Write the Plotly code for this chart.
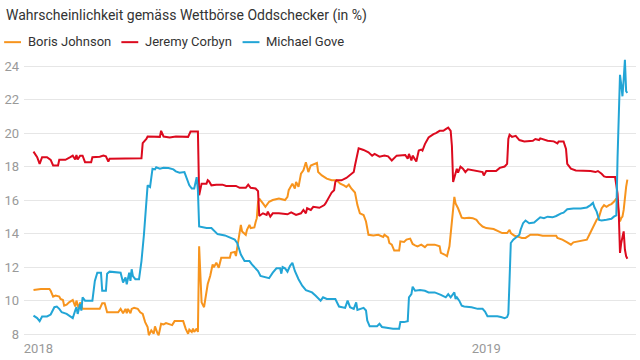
import plotly.graph_objects as go
import pandas as pd

# ---------------- data (day offsets from 2018-01-01, probability in %) ----------------
johnson_days = [-4, 2, 9, 10, 12, 14, 17, 18, 20, 21, 23, 25, 28, 30, 31, 33, 34, 36, 50, 52, 54, 56, 65, 67, 69, 71, 72, 73, 75, 76, 78, 81, 83, 85, 87, 89, 90, 92, 94, 95, 97, 98, 100, 102, 104, 109, 111, 115, 118, 120, 122, 123, 125, 126, 127, 129, 130,
                131, 132, 133, 135, 136, 138, 140, 142, 143, 145, 147, 149, 156, 157, 160, 161, 162, 164, 165, 166, 169, 170, 172, 173, 176, 177, 178, 179, 180, 183, 185, 188, 191, 196, 201, 203, 204, 207, 209, 210, 212, 214, 216, 218, 219, 220, 222, 225, 227, 228, 231, 235, 239, 243, 246, 249, 251, 253, 255, 258, 260, 262, 265, 267, 269, 273, 277, 281, 282, 285, 286, 288, 290, 294, 295, 298, 300, 303, 305, 307, 309, 312, 315, 317, 323, 327, 328, 331, 333, 335, 337, 339, 340, 342, 345, 347, 351, 354, 357, 359, 362, 365, 371, 376, 378, 382, 384, 385, 388, 392, 394, 397, 401, 407, 411, 417, 422, 423, 427, 431, 434, 436, 440, 444, 447, 449, 451, 453, 455, 457, 459, 461, 463, 465, 467, 469, 471, 472, 474, 475, 476, 477, 478, 479, 480]
johnson_vals = [10.64, 10.7, 10.7, 10.6, 10.25, 10.31, 10.25, 10.11, 10.05, 9.71, 9.77, 9.91, 10.05, 9.66, 10.01, 9.52, 9.91, 9.52, 9.52, 9.85, 9.85, 9.32, 9.32, 9.52, 9.26, 9.52, 9.26, 9.52, 9.26, 9.52, 9.58, 9.52, 9.32, 9.22, 8.73, 8.44, 7.95, 8.24, 8.04, 8.48, 8.08, 7.95, 8.63, 8.59, 8.67, 8.55, 8.79, 8.79, 8.79, 8.34, 8.04, 8.28, 8.14, 8.34, 8.14, 8.34, 8.14,
                13.25, 11.0, 9.91, 9.62, 10.01, 11.0, 11.48, 12.17, 12.0, 12.27, 11.97, 12.57, 12.57, 12.86, 12.92, 12.67, 13.16, 14.14, 14.53, 14.14, 13.94, 14.24, 14.53, 14.34, 14.38, 14.69, 14.93, 15.9, 16.1, 15.81, 15.61, 15.91, 16.01, 16.1, 16.01, 16.2, 16.6, 16.99, 16.7, 17.09, 16.8, 17.58, 17.78, 18.27, 17.88, 17.68, 18.07, 18.17, 18.23, 17.68, 17.48, 17.29, 17.19, 17.19, 16.99, 16.89, 16.79, 16.93, 16.7, 16.46, 15.71, 15.22, 15.12, 14.73, 13.94, 13.9, 13.94, 13.81, 13.94, 13.78, 13.45, 13.35, 13.0, 13.0, 13.55, 13.51, 13.65, 13.71, 13.39, 13.31, 13.25, 13.35, 13.2, 13.35, 13.35, 13.25, 12.86, 12.76, 12.66, 13.25, 14.73, 16.2, 15.81, 15.52, 14.96, 14.93, 14.96, 14.93, 14.83, 14.63, 14.43, 14.34, 14.28, 14.14, 14.04, 14.04, 14.24, 14.04, 13.88, 13.8, 13.75, 13.75, 13.94, 13.94, 13.88, 13.88, 13.88, 13.75, 13.65, 13.49, 13.35, 13.49, 13.55, 13.61, 13.65, 13.94, 14.24, 14.53, 14.83, 15.02, 15.51, 15.71, 15.61, 15.71, 15.77, 15.91, 16.1, 15.81, 14.73, 14.93, 15.02, 15.42, 16.3, 16.8, 17.23]

corbyn_days = [-4, -1, 1, 3, 7, 10, 12, 16, 17, 22, 26, 28, 30, 31, 32, 34, 36, 38, 43, 44, 50, 53, 55, 57, 58, 67, 75, 84, 85, 88, 89, 99, 100, 102, 107, 112, 122, 124, 130, 131, 133, 137, 138, 139, 141, 145, 150, 153, 161, 164, 169, 171, 173, 177, 179, 180, 183, 186, 187, 189, 191, 196, 203, 206, 210, 214, 216, 218, 219, 222, 224, 229, 233, 234, 237, 239, 241, 242, 243, 247, 251, 254, 257, 258, 260, 261, 265, 269, 272, 274, 278, 282, 285, 288, 292, 299, 301, 302, 304, 305, 308, 310, 312, 313, 315, 318, 322, 324, 327, 330, 332, 334, 336, 337, 338, 340, 341, 342, 344, 346, 348, 350, 355, 361, 362, 363, 365, 373, 376, 380, 382, 383, 384, 386, 389, 392, 396, 403, 405, 408, 409, 415, 420, 423, 424, 428, 430, 431, 434, 438, 444, 450, 454, 456, 459, 461, 463, 468, 470, 471, 472, 473, 474, 475, 477, 478, 479, 480]
corbyn_vals = [18.9, 18.57, 18.17, 18.57, 18.57, 18.41, 18.07, 18.07, 18.41, 18.41, 18.57, 18.66, 18.43, 18.7, 18.43, 18.66, 18.66, 18.27, 18.27, 18.57, 18.6, 18.66, 18.62, 18.31, 18.47, 18.47, 18.47, 18.51, 19.41, 19.65, 19.8, 19.78, 20.14, 19.8, 19.74, 19.8, 19.78, 20.1, 20.1, 16.3, 16.99, 16.99, 17.19, 17.13, 16.89, 16.93, 16.93, 16.85, 16.85, 16.74, 16.74, 16.93, 16.74, 16.7, 16.54, 15.06, 15.22, 15.12, 15.32, 15.02, 15.22, 15.22, 15.16, 15.28, 15.12, 15.22, 15.42, 15.22, 15.52, 15.42, 15.61, 15.55, 15.71, 15.81, 16.2, 16.46, 16.6, 17.09, 17.19, 17.19, 17.33, 17.48, 17.68, 18.07, 18.86, 19.1, 19.0, 18.86, 18.66, 18.76, 18.6, 18.66, 18.62, 18.37, 18.66, 18.7, 18.47, 18.76, 18.37, 18.66, 18.31, 18.96, 19.02, 18.96, 19.35, 19.74, 19.94, 20.0, 20.14, 20.14, 20.24, 20.33, 20.14, 19.25, 17.09, 17.58, 17.88, 17.64, 18.0, 17.88, 17.68, 17.84, 17.78, 17.72, 17.68, 17.48, 17.74, 17.74, 17.93, 18.01, 18.17, 19.65, 19.9, 19.78, 19.84, 19.59, 19.51, 19.55, 19.65, 19.59, 19.69, 19.55, 19.51, 19.39, 19.51, 19.51, 19.06, 18.17, 17.88, 17.78, 17.78, 17.74, 17.68, 17.74, 17.58, 17.42, 17.38, 17.38, 17.38, 16.9, 16.4, 15.22, 12.86, 13.45, 14.14, 13.06, 12.66, 12.51]

gove_days = [-4, -1, 1, 3, 7, 10, 13, 15, 17, 19, 23, 26, 28, 30, 31, 32, 34, 35, 36, 38, 44, 46, 48, 51, 52, 55, 56, 58, 67, 69, 71, 72, 74, 75, 76, 77, 79, 82, 84, 86, 88, 89, 91, 93, 95, 96, 99, 102, 106, 110, 112, 115, 119, 123, 125, 127, 129, 130, 131, 137, 141, 143, 146, 152, 156, 160, 162, 164, 165, 168, 172, 174, 179, 181, 185, 188, 191, 194, 197, 198, 199, 201, 203, 205, 207, 209, 212, 215, 218, 220, 223, 226, 230, 232, 235, 242, 245, 250, 252, 254, 257, 259, 260, 265, 267, 268, 270, 276, 278, 280, 284, 289, 294, 295, 298, 301, 302, 304, 305, 307, 311, 315, 318, 323, 328, 332, 334, 336, 339, 340, 341, 343, 345, 347, 353, 358, 362, 364, 366, 374, 377, 380, 382, 383, 384, 385, 387, 390, 392, 393, 395, 397, 400, 404, 407, 409, 412, 415, 419, 422, 426, 428, 431, 436, 442, 447, 450, 452, 453, 455, 457, 459, 463, 467, 469, 471, 472, 473, 474, 475, 476, 477, 478, 479, 480]
gove_vals = [9.12, 8.97, 8.79, 9.07, 9.07, 9.18, 9.62, 9.66, 9.52, 9.32, 9.22, 9.07, 8.97, 9.42, 9.62, 9.22, 9.81, 9.42, 10.21, 10.01, 10.01, 11.19, 11.68, 11.68, 10.6, 10.6, 11.62, 11.74, 11.68, 11.09, 11.39, 10.99, 11.68, 11.19, 11.88, 11.48, 11.29, 11.29, 12.37, 13.94, 15.91, 16.89, 16.79, 17.88, 17.84, 17.97, 17.88, 17.93, 17.92, 17.84, 17.72, 17.64, 17.68, 16.89, 16.7, 16.7, 17.38, 16.6, 14.43, 14.34, 14.34, 14.18, 13.98, 13.9, 13.78, 13.65, 13.45, 13.0, 12.76, 12.37, 12.37, 12.17, 11.78, 11.48, 11.39, 11.35, 11.68, 11.94, 11.94, 11.62, 12.02, 11.94, 11.74, 12.07, 12.27, 11.78, 11.29, 10.9, 10.64, 10.6, 10.5, 10.3, 10.01, 10.21, 10.11, 10.11, 9.66, 9.58, 10.01, 9.62, 9.52, 9.91, 9.46, 9.58, 9.42, 8.83, 8.48, 8.48, 8.63, 8.44, 8.4, 8.34, 8.34, 8.73, 8.73, 8.79, 10.21, 10.4, 10.84, 10.6, 10.64, 10.6, 10.5, 10.5, 10.36, 10.21, 10.4, 10.21, 10.5, 10.11, 10.21, 10.01, 9.71, 9.66, 9.62, 9.52, 9.52, 9.36, 9.08, 9.08, 9.03, 8.97, 9.03, 9.22, 11.29, 13.45, 13.65, 13.84, 13.94, 14.24, 14.63, 14.79, 14.63, 14.67, 14.87, 14.98, 14.93, 15.02, 14.98, 15.06, 15.22, 15.26, 15.46, 15.51, 15.51, 15.57, 15.71, 15.85, 15.61, 15.32, 14.83, 14.79, 14.83, 14.89, 15.02, 15.1, 18.5, 22.0, 23.48, 22.9, 22.2, 23.2, 24.37, 22.5, 22.4]

series_names = ["Boris Johnson", "Jeremy Corbyn", "Michael Gove"]
series_colors = ["#f7941d", "#dc0a1e", "#22a5d6"]
y_ticks = [8, 10, 12, 14, 16, 18, 20, 22, 24]
x_tick_dates = ["2018-01-01", "2019-01-01"]
x_tick_labels = ["2018", "2019"]
title_text = "Wahrscheinlichkeit gemäss Wettbörse Oddschecker (in %)"

start = pd.Timestamp("2018-01-01")


def to_dates(days):
    return [start + pd.Timedelta(days=d) for d in days]


# ---------------- figure ----------------
W, H = 640, 360
L, R, T, B = 20, 4, 57, 18
PW, PH = W - L - R, H - T - B


def px_x(px):
    return (px - L) / PW


def px_y(py):
    return 1 - (py - T) / PH


fig = go.Figure()
for name, color, days, vals in [
    (series_names[0], series_colors[0], johnson_days, johnson_vals),
    (series_names[1], series_colors[1], corbyn_days, corbyn_vals),
    (series_names[2], series_colors[2], gove_days, gove_vals),
]:
    fig.add_trace(go.Scatter(x=to_dates(days), y=vals, mode="lines", name=name,
                             line=dict(color=color, width=2), showlegend=False,
                             hoverinfo="skip"))

FONT = "Roboto, 'Noto Sans', sans-serif"

annotations = [dict(text=title_text, x=px_x(0), y=px_y(15.5), xref="paper", yref="paper",
                    xanchor="left", yanchor="middle", showarrow=False,
                    font=dict(family=FONT, size=14, color="#333333"))]
shapes = []
legend_line_x = [0, 118, 240]
for i, name in enumerate(series_names):
    x0 = legend_line_x[i]
    shapes.append(dict(type="line", xref="paper", yref="paper",
                       x0=px_x(x0), x1=px_x(x0 + 17), y0=px_y(42), y1=px_y(42),
                       line=dict(color=series_colors[i], width=2)))
    annotations.append(dict(text=name, x=px_x(x0 + 22), y=px_y(41.8), xref="paper", yref="paper",
                            xanchor="left", yanchor="middle", showarrow=False,
                            font=dict(family=FONT, size=13, color="#333333")))

fig.update_layout(
    width=W, height=H,
    margin=dict(l=L, r=R, t=T, b=B, pad=0),
    paper_bgcolor="white", plot_bgcolor="white",
    font=dict(family=FONT),
    annotations=annotations, shapes=shapes,
    xaxis=dict(type="date", range=["2017-12-20 06:15", "2019-05-03 01:00"],
               tickmode="array", tickvals=x_tick_dates, ticktext=x_tick_labels,
               showgrid=False, zeroline=False, showline=False, ticks="",
               tickfont=dict(family=FONT, size=13, color="#999999")),
    yaxis=dict(range=[7.723, 24.543], tickmode="array", tickvals=y_ticks,
               showgrid=True, gridcolor="#e6e6e6", gridwidth=1, zeroline=False,
               showline=False, ticks="", ticklabelstandoff=4,
               tickfont=dict(family=FONT, size=13, color="#999999")),
)

fig.write_html("out.html", config={"displayModeBar": False},
               post_script="document.body.style.margin='0';document.body.style.overflow='hidden';")
